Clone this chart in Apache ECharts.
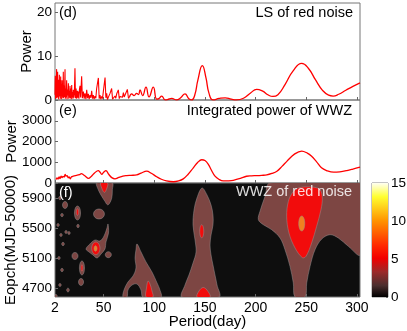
<!DOCTYPE html>
<html>
<head>
<meta charset="utf-8">
<script src="https://cdn.jsdelivr.net/npm/echarts@6/dist/echarts.min.js"></script>
<style>
html, body { margin: 0; padding: 0; background: #fff; }
#main { width: 407px; height: 331px; }
</style>
</head>
<body>
<div id="main"></div>
<script>
// (d) LS of red noise, [period(day), power]; dense part first, smooth tail after
var lsNoisy = [
  [2,1.2],[2.15,3.9],[2.3,5.5],[2.45,1.1],[2.6,0.3],[2.75,2.8],[2.9,4.2],[3.05,1.6],[3.2,0.5],[3.4,4.9],
  [3.6,7.0],[3.75,2.2],[3.9,0.4],[4.1,2.9],[4.3,3.8],[4.45,1.5],[4.6,6.4],[4.75,2.4],[4.9,0.6],[5.1,3.4],
  [5.3,4.6],[5.45,1.9],[5.6,0.2],[5.8,2.5],[6.0,3.1],[6.15,1.4],[6.3,5.7],[6.45,2.6],[6.6,0.8],[6.8,3.0],
  [7.0,4.4],[7.15,1.2],[7.3,0.3],[7.45,3.2],[7.6,5.3],[7.8,2.1],[8.0,1.0],[8.15,2.7],[8.3,3.6],[8.45,1.3],
  [8.6,0.2],[8.75,2.4],[8.9,4.5],[9.1,1.8],[9.3,0.5],[9.45,2.0],[9.6,2.8],[9.9,1.1],[10.2,6.4],[10.35,2.0],
  [10.5,0.4],[10.7,2.5],[10.9,3.3],[11.05,1.5],[11.2,0.7],[11.55,3.1],[11.9,7.0],[12.05,2.1],[12.2,0.3],[12.4,1.9],
  [12.6,2.6],[12.8,1.2],[13.0,0.6],[13.25,2.6],[13.5,4.5],[13.7,1.6],[13.9,0.2],[14.15,1.8],[14.4,2.4],[14.6,1.0],
  [14.8,0.8],[15.0,2.5],[15.2,3.8],[15.4,1.1],[15.6,0.3],[15.8,1.6],[16.0,2.1],[16.2,1.0],[16.4,0.5],[16.6,2.2],
  [16.8,3.2],[17.0,1.2],[17.2,0.4],[17.45,1.9],[17.7,2.6],[17.9,0.9],[18.1,0.2],[18.3,2.1],[18.5,3.4],[18.7,1.2],
  [18.9,0.6],[19.1,1.3],[19.3,1.8],[19.5,0.8],[19.7,0.3],[19.9,1.6],[20.1,2.3],[20.6,0.5],
  [21.1,1.4],[21.7,7.2],[22.2,0.4],[22.8,2.6],[23.4,0.3],[24.1,2.1],[24.6,0.5],[25.0,1.9],[25.6,0.3],[26.1,2.4],
  [26.7,3.2],[27.3,0.6],[28.3,5.4],[29.0,0.4],[30.0,1.9],[30.8,0.3],[31.6,1.5],[32.5,0.2],[33.3,2.3],[34.1,0.4],
  [34.9,1.4],[35.7,0.2],[36.6,1.1],[37.4,0.5],[38.2,2.1],[39.0,0.3],[39.8,1.1],[40.6,0.2],[41.5,0.9],[42.3,0.4],
  [43.1,2.6],[44.8,5.0],[45.6,0.3],[46.4,1.1],[47.2,0.2],[48.1,0.8],[48.9,0.3],[49.7,1.9],[51.4,5.1],[52.2,0.5],
  [53.0,1.5],[53.8,0.1],[54.6,0.6],[55.5,0.2],[56.3,1.5],[57.9,2.6],[58.8,0.2],[59.6,0.6],[60.4,0.3],[61.2,0.9],
  [62.0,0.4],[62.9,1.4],[64.5,2.3],[65.4,0.3],[66.2,0.8],[67.0,0.4],[67.8,1.1],[68.6,0.6],[69.5,1.7],[70.3,0.7],
  [71.1,0.8],[72.2,0.6],[73.4,2.4],[74.5,0.4],[75.4,0.6]
];
var lsSmooth = [
  [75.4,0.6],[77.7,1.4],[80,1.0],[82.6,1.5],[84.5,1.2],[85.9,2.3],[88.5,1.0],[91.8,2.9],[94.8,0.7],[99,2.9],
  [102.4,0.2],[104.5,0.3],[107.3,0.9],[110.6,0.05],[113,0.1],[117.2,0.35],[122,0.02],[126,0.5],[130.3,1.4],[134,0.3],
  [137,0.02],[140,1.2],[143,4.5],[147.4,7.8],[151,5.0],[154,1.5],[158,0.02],[164,0.35],[170,0.5],[176,0.2],
  [181,0.02],[188,0.4],[195,1.6],[201,2.4],[207,2.0],[212,1.2],[217,0.8],[222,1.2],[229,3.5],[237,6.6],
  [245.5,8.3],[252,7.2],[259,4.6],[266,2.2],[272,1.1],[276.5,0.9],[282,1.3],[289,2.2],[296,3.1],[303,3.9]
];

// (e) integrated power of WWZ, [period(day), power]
var wwzPower = [
  [3,160],[4,250],[5,190],[6,300],[7,210],[8,330],[9,260],[10,320],[11,290],[12,420],[13,330],[14,360],
  [15,250],[16,300],[17,200],[18,280],[19,310],[20,330],[22,350],[24,380],[26,400],[28,450],[30,400],[32,330],
  [35,220],[38,330],[41,480],[44.7,600],[46.5,520],[48.1,420],[50,520],[52.3,600],[55,420],[58,260],[61.2,200],
  [65,270],[69,330],[72.7,355],[77,370],[82.6,390],[87,480],[92.5,570],[97,470],[102.4,300],[107,180],[112,100],
  [118.8,60],[124,100],[128.6,200],[133,400],[138.5,730],[143,1000],[146.8,1120],[150,1080],[153.3,900],[156,650],
  [159.9,330],[164,170],[168,100],[173,105],[178,130],[185,220],[191,325],[196,345],[201,355],[206,370],[211,390],
  [216,460],[221,570],[226,800],[231,1055],[238,1380],[245.5,1540],[251,1440],[255,1300],[260,1030],[265,730],
  [270,600],[277,520],[283,540],[290,600],[296,670],[303,760]
];

// (f) WWZ contour regions, vertices as [period(day), epoch]
var brownPolys = [
  [[214.2,6100],[209.3,5922],[204.3,5722],[202.7,5611],[207.6,5544],[215.8,5478],[224.1,5367],[229.0,5211],
   [233.9,4989],[237.2,4767],[238.9,4580],[248.7,4580],[250.4,4767],[253.7,4989],[258.6,5211],[265.2,5353],
   [273.4,5411],[281.6,5367],[291.5,5256],[303,5144],[303,6100]],
  [[147.1,6033],[152.0,5940],[156.0,5807],[157.9,5673],[157.9,5540],[156.0,5407],[155.0,5273],[156.0,5140],
   [157.9,5007],[159.9,4873],[161.9,4740],[163.9,4580],[127.3,4580],[130.3,4740],[134.2,4873],[138.2,5033],
   [141.2,5180],[140.2,5340],[138.2,5540],[139.2,5740],[142.1,5900]],
  [[82.9,5287],[86.9,5180],[91.8,5047],[97.7,4913],[102.7,4767],[105.6,4673],[106.6,4580],[88.8,4580],
   [86.9,4673],[82.9,4753],[78.0,4740],[74.0,4673],[73.1,4580],[69.1,4580],[70.1,4673],[74.0,4780],
   [79.0,4860],[81.9,4967],[81.0,5100],[81.9,5207]],
  [[43.2,6100],[58.6,6100],[58.6,6011],[58.0,5900],[55.6,5824],[53.6,5811],[51.3,5856],[48.1,5923],[44.7,6011]],
  [[32.6,5220],[36.5,5287],[41.5,5340],[46.4,5327],[50.4,5393],[53.3,5500],[54.3,5553],[54.8,5433],
   [52.3,5313],[51.3,5220],[47.4,5153],[43.5,5100],[39.5,5140],[35.6,5180]]
];
// small blobs: [period, epoch, half width (day), half height (epoch)]
var brownBlobs = [
  [45.4,5687,5.4,67],[54.6,5144,3,40],[24.2,5700,3,93],[28.6,4967,2.5,93],[21.7,5127,3,47],
  [27.7,4780,2.5,47],[11.9,5807,2.5,47],[6.9,5900,1.3,22],[8.9,5673,1.3,22],[5.0,5540,1.2,20],
  [7.9,5407,1.2,20],[9.9,5287,1.3,22],[12.9,5447,1.2,20],[5.9,5100,1.2,20],[8.9,4940,1.3,22],
  [14.8,4673,1.3,25],[6.9,4740,1.2,20],[3.0,4593,1.2,20],[24.7,5527,1.2,22],[15.8,5433,1.2,20]
];
var redPolys = [
  [[236.2,5967],[242.1,6033],[255.3,6047],[263.5,6011],[265.8,5900],[264.5,5744],[260.2,5522],[255.3,5300],
   [249.7,5122],[246.1,5105],[238.9,5233],[232.9,5433],[230.6,5656],[232.3,5856]],
  [[142.1,4580],[144.1,4660],[148.1,4707],[152.0,4673],[155.0,4580]],
  [[91.8,4580],[92.3,4700],[93.8,4793],[95.8,4753],[97.7,4660],[98.7,4580]],
  [[47.1,6100],[54.0,6100],[52.0,5989],[50.4,5976],[48.1,6033]]
];
var redBlobs = [
  [146.8,5456,2,87],[42.3,5229,4.1,84],[24.2,5713,1.2,45],[28.6,4967,1,45]
];
var orangeBlobs = [
  [245.5,5560,3,100],[42.0,5227,1.5,37]
];

var periodTicks = [2, 50, 100, 150, 200, 250, 300];
var lsTicks = [0, 10, 20];
var wwzTicks = [0, 1000, 2000, 3000];
var epochTicks = [4700, 5100, 5500, 5900];
var cbarTicks = [0, 5, 10, 15];

var FONT = '"Liberation Sans", Arial, sans-serif';
var edge = 'rgba(150,150,150,0.8)';
function plain(v) { return String(v); }

function xAx(gi, showLabels) {
  return {
    type: 'value', gridIndex: gi, min: 2, max: 303,
    axisLine: { show: false }, splitLine: { show: false },
    axisTick: { show: true, inside: true, length: 3, lineStyle: { color: '#666' }, customValues: periodTicks },
    axisLabel: { show: showLabels, customValues: periodTicks, formatter: plain, color: '#000', fontSize: 14, fontFamily: FONT, margin: 4 },
    name: showLabels ? 'Period(day)' : '', nameLocation: 'middle', nameGap: 17, nameMoveOverlap: false,
    nameTextStyle: { color: '#000', fontSize: 15, fontFamily: FONT }
  };
}
function yAx(gi, min, max, ticks, name, gap) {
  return {
    type: 'value', gridIndex: gi, min: min, max: max,
    axisLine: { show: false }, splitLine: { show: false },
    axisTick: { show: true, inside: true, length: 3, lineStyle: { color: '#666' }, customValues: ticks },
    axisLabel: { customValues: ticks, formatter: plain, color: '#000', fontSize: 13.5, fontFamily: FONT, margin: 3 },
    name: name, nameLocation: 'middle', nameGap: gap, nameMoveOverlap: false,
    nameTextStyle: { color: '#000', fontSize: 15, fontFamily: FONT }
  };
}

function polySeries(polys, color) {
  return {
    type: 'custom', xAxisIndex: 2, yAxisIndex: 2, clip: true, silent: true,
    data: polys.map(function (poly, i) { return [poly[0][0], poly[0][1], i]; }),
    renderItem: function (params, api) {
      var poly = polys[api.value(2)];
      return {
        type: 'polygon',
        shape: { points: poly.map(function (pt) { return api.coord(pt); }), smooth: 0.35 },
        style: { fill: color, stroke: edge, lineWidth: 0.6 }
      };
    }
  };
}
function blobSeries(blobs, color) {
  return {
    type: 'custom', xAxisIndex: 2, yAxisIndex: 2, clip: true, silent: true,
    data: blobs,
    renderItem: function (params, api) {
      var c = api.coord([api.value(0), api.value(1)]);
      var s = api.size([api.value(2), api.value(3)]);
      return {
        type: 'ellipse',
        shape: { cx: c[0], cy: c[1], rx: s[0], ry: s[1] },
        style: { fill: color, stroke: edge, lineWidth: 0.6 }
      };
    }
  };
}

function label(text, pos, color, opacity) {
  var t = { type: 'text', z: 100, style: { text: text, font: '14.5px ' + FONT, fill: color, opacity: opacity || 1 } };
  for (var k in pos) t[k] = pos[k];
  return t;
}

var gridBase = { outerBoundsMode: 'none', containLabel: false, show: true, borderColor: '#777', borderWidth: 1 };
function grid(extra) {
  var g = {};
  for (var k in gridBase) g[k] = gridBase[k];
  for (var j in extra) g[j] = extra[j];
  return g;
}

var chart = echarts.init(document.getElementById('main'), null, { renderer: 'canvas' });
chart.setOption({
  animation: false,
  backgroundColor: '#fff',
  grid: [
    grid({ left: 55, top: 3, width: 305, height: 97 }),
    grid({ left: 55, top: 100, width: 305, height: 83 }),
    grid({ left: 55, top: 183, width: 305, height: 114, backgroundColor: '#0e0e0e' }),
    grid({ left: 372, top: 183, width: 16, height: 114, borderColor: '#888' })
  ],
  xAxis: [
    xAx(0, false), xAx(1, false), xAx(2, true),
    { type: 'category', gridIndex: 3, data: ['c'], show: false }
  ],
  yAxis: [
    yAx(0, 0, 22, lsTicks, 'Power', 21),
    yAx(1, 0, 4000, wwzTicks, 'Power', 36),
    yAx(2, 4580, 6100, epochTicks, 'Eopch(MJD-50000)', 37),
    {
      type: 'value', gridIndex: 3, min: 0, max: 15, position: 'right',
      axisLine: { show: false }, splitLine: { show: false },
      axisTick: { show: true, inside: true, length: 2, lineStyle: { color: '#666' }, customValues: cbarTicks },
      axisLabel: { customValues: cbarTicks, formatter: plain, color: '#000', fontSize: 13.5, fontFamily: FONT, margin: 3 }
    }
  ],
  graphic: [
    label('(d)', { left: 59, top: 5 }, '#000'),
    label('LS of red noise', { right: 54, top: 5 }, '#000'),
    label('(e)', { left: 59, top: 103 }, '#000'),
    label('Integrated power of WWZ', { right: 55, top: 103 }, '#000'),
    label('(f)', { left: 59, top: 185 }, '#fff'),
    label('WWZ of red noise', { right: 55, top: 184 }, '#fff', 0.85)
  ],
  series: [
    { type: 'line', xAxisIndex: 0, yAxisIndex: 0, data: lsNoisy, showSymbol: false, symbol: 'none',
      lineStyle: { color: '#ff0000', width: 1.1 }, silent: true },
    { type: 'line', xAxisIndex: 0, yAxisIndex: 0, data: lsSmooth, smooth: true, showSymbol: false, symbol: 'none',
      lineStyle: { color: '#ff0000', width: 1.3 }, silent: true },
    { type: 'line', xAxisIndex: 1, yAxisIndex: 1, data: wwzPower, smooth: 0.4, showSymbol: false, symbol: 'none',
      lineStyle: { color: '#ff0000', width: 1.3 }, silent: true },
    polySeries(brownPolys, '#7d4643'),
    blobSeries(brownBlobs, '#7d4643'),
    polySeries(redPolys, '#f20c0c'),
    blobSeries(redBlobs, '#f20c0c'),
    blobSeries(orangeBlobs, '#f08020'),
    {
      type: 'bar', xAxisIndex: 3, yAxisIndex: 3, data: [15], barWidth: '100%', silent: true,
      itemStyle: {
        color: {
          type: 'linear', x: 0, y: 0, x2: 0, y2: 1,
          colorStops: [
            { offset: 0, color: '#fffff2' },
            { offset: 0.12, color: '#ffff30' },
            { offset: 0.33, color: '#ff9400' },
            { offset: 0.55, color: '#ff2800' },
            { offset: 0.66, color: '#f20000' },
            { offset: 0.78, color: '#9a2a2a' },
            { offset: 0.9, color: '#4a2e2e' },
            { offset: 1, color: '#000000' }
          ]
        }
      }
    }
  ]
});
</script>
</body>
</html>
